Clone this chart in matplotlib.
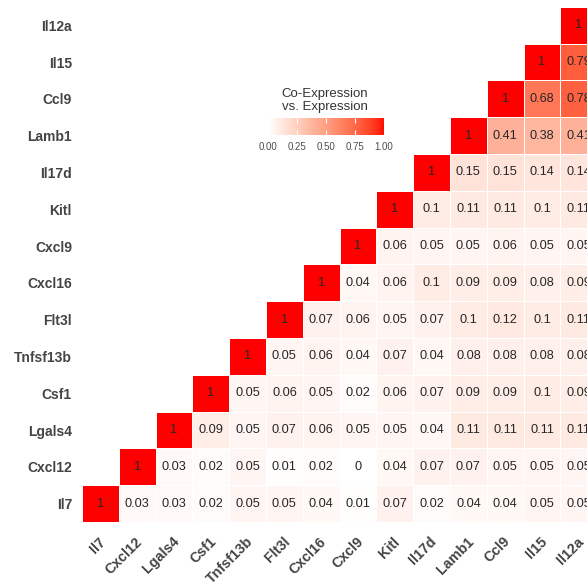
import numpy as np
import matplotlib
matplotlib.use("Agg")
import matplotlib.pyplot as plt
from matplotlib.colors import ListedColormap
from matplotlib.cm import ScalarMappable
from matplotlib.colors import Normalize
from matplotlib.transforms import ScaledTranslation

genes = ["Il7", "Cxcl12", "Lgals4", "Csf1", "Tnfsf13b", "Flt3l", "Cxcl16",
         "Cxcl9", "Kitl", "Il17d", "Lamb1", "Ccl9", "Il15", "Il12a"]

# Upper-triangle co-expression ratios, one list per row gene (from its diagonal to the right)
il7 = [1, 0.03, 0.03, 0.02, 0.05, 0.05, 0.04, 0.01, 0.07, 0.02, 0.04, 0.04, 0.05, 0.05]
cxcl12 = [1, 0.03, 0.02, 0.05, 0.01, 0.02, 0, 0.04, 0.07, 0.07, 0.05, 0.05, 0.05]
lgals4 = [1, 0.09, 0.05, 0.07, 0.06, 0.05, 0.05, 0.04, 0.11, 0.11, 0.11, 0.11]
csf1 = [1, 0.05, 0.06, 0.05, 0.02, 0.06, 0.07, 0.09, 0.09, 0.1, 0.09]
tnfsf13b = [1, 0.05, 0.06, 0.04, 0.07, 0.04, 0.08, 0.08, 0.08, 0.08]
flt3l = [1, 0.07, 0.06, 0.05, 0.07, 0.1, 0.12, 0.1, 0.11]
cxcl16 = [1, 0.04, 0.06, 0.1, 0.09, 0.09, 0.08, 0.09]
cxcl9 = [1, 0.06, 0.05, 0.05, 0.06, 0.05, 0.05]
kitl = [1, 0.1, 0.11, 0.11, 0.1, 0.11]
il17d = [1, 0.15, 0.15, 0.14, 0.14]
lamb1 = [1, 0.41, 0.38, 0.41]
ccl9 = [1, 0.68, 0.78]
il15 = [1, 0.79]
il12a = [1]

rows = [il7, cxcl12, lgals4, csf1, tnfsf13b, flt3l, cxcl16,
        cxcl9, kitl, il17d, lamb1, ccl9, il15, il12a]

n = len(genes)
mat = np.full((n, n), np.nan)
for i, r in enumerate(rows):
    mat[i, i:] = r


# White -> red gradient interpolated in CIELAB
def _lab_to_srgb(L, a, b):
    fy = (L + 16) / 116
    fx = fy + a / 500
    fz = fy - b / 200

    def finv(t):
        return np.where(t > 6 / 29, t ** 3, 3 * (6 / 29) ** 2 * (t - 4 / 29))

    X = 0.95047 * finv(fx)
    Y = 1.0 * finv(fy)
    Z = 1.08883 * finv(fz)
    R = 3.2406 * X - 1.5372 * Y - 0.4986 * Z
    G = -0.9689 * X + 1.8758 * Y + 0.0415 * Z
    B = 0.0557 * X - 0.2040 * Y + 1.0570 * Z
    rgb = np.stack([R, G, B], axis=-1)
    rgb = np.clip(rgb, 0, 1)
    rgb = np.where(rgb <= 0.0031308, 12.92 * rgb,
                   1.055 * np.power(rgb, 1 / 2.4) - 0.055)
    return np.clip(rgb, 0, 1)


t = np.linspace(0, 1, 256)
white_lab = np.array([100.0, 0.0, 0.0])
red_lab = np.array([53.24, 80.09, 67.20])
lab = white_lab[None, :] * (1 - t[:, None]) + red_lab[None, :] * t[:, None]
cmap = ListedColormap(_lab_to_srgb(lab[:, 0], lab[:, 1], lab[:, 2]))
cmap.set_bad((1, 1, 1, 0))
norm = Normalize(0, 1)

W, H = 587, 584
fig = plt.figure(figsize=(W / 100, H / 100), dpi=100)
fig.patch.set_facecolor("white")

cell = 36.8
left, bottom = 82, 522
ax = fig.add_axes([left / W, 1 - bottom / H, n * cell / W, n * cell / H])

ax.pcolormesh(np.arange(n + 1) - 0.5, np.arange(n + 1) - 0.5,
              np.ma.masked_invalid(mat), cmap=cmap, norm=norm,
              edgecolors="white", linewidth=0.7)

for i in range(n):
    for j in range(i, n):
        v = mat[i, j]
        ax.text(j, i, f"{v:g}", ha="center", va="center",
                fontsize=9.2, family="Liberation Sans", color="#262626")

ax.set_xlim(-0.5, n - 0.5)
ax.set_ylim(-0.5, n - 0.5)
for s in ax.spines.values():
    s.set_visible(False)
ax.set_xticks(range(n))
ax.set_yticks(range(n))
ax.set_xticklabels(genes, rotation=45, ha="right", va="top",
                   fontsize=10.3, family="Liberation Sans", fontweight="bold",
                   color="#444444")
ax.set_yticklabels(genes, fontsize=10, family="Liberation Sans",
                   fontweight="bold", color="#444444")
ax.tick_params(axis="both", length=0)
ax.tick_params(axis="y", pad=7.2)
ax.tick_params(axis="x", pad=9.0)
shift = ScaledTranslation(8 / 100, 0, fig.dpi_scale_trans)
for lab_ in ax.get_xticklabels():
    lab_.set_transform(lab_.get_transform() + shift)

# Colour legend
cb_l, cb_r, cb_t, cb_b = 268, 384, 118, 135
cax = fig.add_axes([cb_l / W, 1 - cb_b / H, (cb_r - cb_l) / W, (cb_b - cb_t) / H])
sm = ScalarMappable(norm=norm, cmap=cmap)
cb = fig.colorbar(sm, cax=cax, orientation="horizontal")
cb.outline.set_visible(False)
cb.set_ticks([0, 0.25, 0.5, 0.75, 1.0])
cb.set_ticklabels(["0.00", "0.25", "0.50", "0.75", "1.00"])
cax.tick_params(axis="x", direction="in", length=3.5, width=0.8, color="white",
                top=True, bottom=True, labelsize=7.0, labelcolor="#4D4D4D", pad=5)
for lab_ in cax.get_xticklabels():
    lab_.set_family("Liberation Sans")

fig.text(325 / W, 1 - 100.5 / H, "Co-Expression\nvs. Expression",
         ha="center", va="center", fontsize=9.5, family="Liberation Sans",
         color="#333333", linespacing=1.05)

fig.savefig("out.png", dpi=100)
